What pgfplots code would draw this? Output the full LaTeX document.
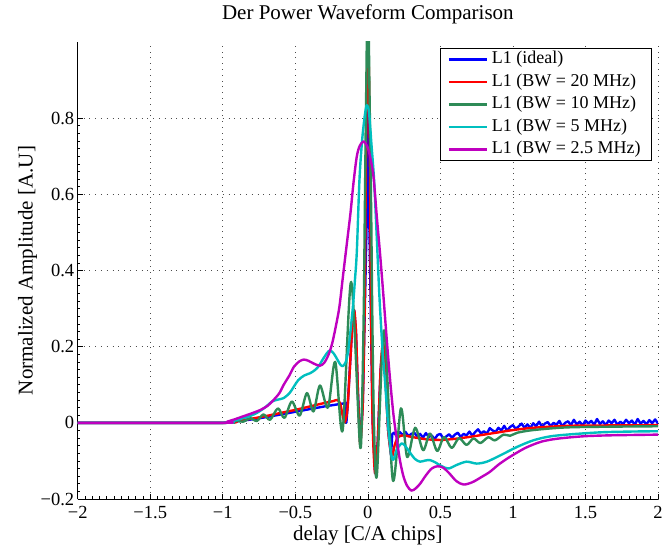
\documentclass[border=0pt]{standalone}
\usepackage{fontspec}
\setmainfont{Liberation Serif}
\usepackage{pgfplots}
\pgfplotsset{compat=1.18}
\usetikzlibrary{calc}
\definecolor{mgreen}{RGB}{46,139,87}
\definecolor{mcyan}{RGB}{0,191,191}
\definecolor{mmag}{RGB}{191,0,191}
\begin{document}
\begin{tikzpicture}
\begin{axis}[
  name=ax,
  scale only axis,
  width=580.3pt, height=457pt,
  xmin=-2, xmax=2, ymin=-0.2, ymax=1,
  axis lines*=left,
  axis line style={line width=0.8pt, black},
  xtick={-2,-1.5,-1,-0.5,0,0.5,1,1.5,2},
  xticklabels={−2,−1.5,−1,−0.5,0,0.5,1,1.5,2},
  ytick={-0.2,0,0.2,0.4,0.6,0.8},
  yticklabels={−0.2,0,0.2,0.4,0.6,0.8},
  minor x tick num=9, minor y tick num=9,
  tick align=inside,
  major tick length=5pt, minor tick length=2.5pt,
  tick style={black, line width=0.6pt},
  grid=major,
  major grid style={black!70, line width=0.6pt, dash pattern=on 0.8pt off 5pt},
  xticklabel style={font=\fontsize{18.5}{18}\selectfont, anchor=base, yshift=-20pt},
  yticklabel style={font=\fontsize{18.5}{18}\selectfont},
  title={Der Power Waveform Comparison},
  title style={font=\fontsize{21}{22}\selectfont, at={(0.5,1)}, anchor=base, yshift=16pt},
  xlabel={delay [C/A chips]},
  xlabel style={font=\fontsize{21}{22}\selectfont, at={(axis description cs:0.5,0)}, anchor=base, yshift=-42pt},
  ylabel={Normalized Amplitude [A.U]},
  ylabel style={font=\fontsize{21}{22}\selectfont, at={(axis description cs:-0.0775,0.5)}, anchor=base},
  every axis plot/.append style={line width=2.4pt, line join=round},
  legend image code/.code={\draw[#1] (0pt,0pt) -- (38pt,0pt);},
  legend style={at={(1,1)}, anchor=north east, xshift=-6pt, yshift=-6pt,
    draw=black, line width=0.8pt, fill=white,
    font=\fontsize{18}{18}\selectfont,
    inner xsep=7pt, inner ysep=0pt,
    nodes={inner xsep=4pt, inner ysep=3pt, text height=12.5pt, text depth=4pt},
    cells={anchor=west}, row sep=0pt},
]
% L1 ideal
\addplot[blue] coordinates {
(-2,0)(-1,0)(-0.9,0.004)(-0.8,0.009)(-0.7,0.015)(-0.6,0.022)(-0.5,0.029)(-0.4,0.036)(-0.3,0.043)(-0.2,0.049)(-0.15,0.052)(-0.148,0.0)(-0.14,0.04)(-0.12,0.17)(-0.105,0.27)(-0.094,0.296)(-0.082,0.24)(-0.07,0.1)(-0.06,0.0)(-0.052,-0.054)(-0.035,0.05)(-0.004,0.6)(0.002,1.1)(0.007,0.6)(0.033,0.0)(0.05,-0.133)(0.068,-0.05)(0.088,0.14)(0.105,0.21)(0.12,0.13)(0.14,-0.02)(0.16,-0.085)(0.168,-0.03)
(0.18,-0.026)(0.20,-0.035)(0.22,-0.024)(0.24,-0.032)(0.26,-0.024)(0.28,-0.035)(0.30,-0.029)(0.32,-0.026)(0.34,-0.036)(0.36,-0.029)(0.38,-0.039)(0.40,-0.027)(0.42,-0.037)(0.44,-0.033)(0.46,-0.043)(0.48,-0.032)(0.50,-0.029)(0.52,-0.041)(0.54,-0.036)(0.56,-0.030)(0.58,-0.039)(0.60,-0.031)(0.62,-0.026)(0.64,-0.037)(0.66,-0.029)(0.68,-0.033)(0.70,-0.023)(0.72,-0.034)(0.74,-0.024)(0.76,-0.017)(0.78,-0.028)(0.80,-0.022)(0.82,-0.029)(0.84,-0.014)(0.86,-0.020)(0.88,-0.024)(0.90,-0.013)(0.92,-0.020)(0.94,-0.008)(0.96,-0.021)(0.98,-0.011)(1.00,-0.006)(1.02,-0.016)(1.04,-0.009)(1.06,-0.002)(1.08,-0.013)(1.10,-0.004)(1.12,-0.014)(1.14,-0.001)(1.16,-0.009)(1.18,0.003)(1.20,-0.010)(1.22,-0.002)(1.24,0.002)(1.26,-0.009)(1.28,0.000)(1.30,-0.005)(1.32,0.005)(1.34,-0.009)(1.36,0.000)(1.38,0.004)(1.40,-0.006)(1.42,0.008)(1.44,-0.004)(1.46,0.003)(1.48,-0.007)(1.50,0.006)(1.52,-0.002)(1.54,0.005)(1.56,-0.005)(1.58,0.010)(1.60,-0.003)(1.62,0.004)(1.64,-0.006)(1.66,0.006)(1.68,-0.001)(1.70,0.008)(1.72,-0.005)(1.74,0.003)(1.76,-0.003)(1.78,0.008)(1.80,-0.001)(1.82,0.006)(1.84,-0.005)(1.86,0.010)(1.88,-0.002)(1.90,0.005)(1.92,-0.004)(1.94,0.007)(1.96,-0.001)(1.98,0.009)(2.00,-0.002)
};
\addlegendentry{L1 (ideal)}
% BW 20
\addplot[red, smooth, tension=0.5] coordinates {
(-2,0)(-1,0)(-0.9,0.005)(-0.8,0.011)(-0.7,0.018)(-0.6,0.026)(-0.5,0.034)(-0.4,0.043)(-0.3,0.052)(-0.24,0.057)(-0.21,0.06)(-0.19,0.05)(-0.172,0.016)(-0.158,0.002)(-0.14,0.04)(-0.12,0.17)(-0.105,0.27)(-0.094,0.296)(-0.082,0.24)(-0.07,0.1)(-0.06,0.0)(-0.052,-0.054)(-0.035,0.05)(-0.022,0.3)(-0.015,0.6)(-0.006,0.9)(0.003,0.98)(0.01,0.85)(0.016,0.6)(0.022,0.3)(0.033,0.0)(0.05,-0.133)(0.068,-0.05)(0.088,0.14)(0.105,0.21)(0.12,0.13)(0.14,-0.02)(0.165,-0.088)(0.185,-0.058)(0.21,-0.037)(0.25,-0.033)(0.3,-0.037)(0.35,-0.04)(0.4,-0.043)(0.5,-0.045)(0.6,-0.042)(0.7,-0.037)(0.8,-0.031)(0.9,-0.025)(1.0,-0.019)(1.14,-0.013)(1.37,-0.008)(1.6,-0.007)(2,-0.006)
};
\addlegendentry{L1 (BW = 20 MHz)}
% BW 10
\addplot[mgreen, smooth, tension=0.5] coordinates {
(-2,0)(-1,0)(-0.95,0.002)(-0.9,0.005)(-0.86,0.003)(-0.81,0.012)(-0.765,0.005)(-0.72,0.022)(-0.674,0.008)(-0.62,0.038)(-0.575,0.013)(-0.524,0.056)(-0.47,0.019)(-0.42,0.078)(-0.375,0.03)(-0.33,0.098)(-0.275,0.04)(-0.225,0.16)(-0.174,-0.02)(-0.115,0.37)(-0.055,-0.056)(-0.04,0.05)(-0.028,0.3)(-0.021,0.55)(-0.012,0.85)(0.0,1.15)(0.012,0.85)(0.023,0.55)(0.03,0.3)(0.042,0.0)(0.062,-0.138)(0.112,0.243)(0.172,-0.15)(0.228,0.038)(0.271,-0.09)(0.326,-0.013)(0.381,-0.072)(0.428,-0.028)(0.478,-0.074)(0.525,-0.037)(0.578,-0.066)(0.628,-0.04)(0.68,-0.058)(0.728,-0.041)(0.775,-0.053)(0.83,-0.038)(0.876,-0.046)(0.935,-0.031)(0.98,-0.034)(1.03,-0.026)(1.14,-0.019)(1.37,-0.012)(1.7,-0.01)(2,-0.009)
};
\addlegendentry{L1 (BW = 10 MHz)}
% BW 5
\addplot[mcyan, smooth, tension=0.5] coordinates {
(-2,0)(-1,0)(-0.95,0.003)(-0.88,0.01)(-0.82,0.017)(-0.77,0.025)(-0.71,0.04)(-0.66,0.056)(-0.62,0.061)(-0.58,0.065)(-0.54,0.078)(-0.51,0.095)(-0.48,0.112)(-0.44,0.124)(-0.40,0.13)(-0.37,0.137)(-0.34,0.148)(-0.31,0.167)(-0.28,0.184)(-0.26,0.19)(-0.235,0.182)(-0.21,0.166)(-0.19,0.153)(-0.172,0.149)(-0.152,0.16)(-0.135,0.19)(-0.12,0.24)(-0.103,0.305)(-0.09,0.37)(-0.076,0.45)(-0.058,0.637)(-0.04,0.74)(-0.02,0.81)(-0.007,0.834)(0.008,0.815)(0.025,0.73)(0.043,0.637)(0.06,0.5)(0.08,0.33)(0.10,0.2)(0.12,0.1)(0.14,-0.01)(0.155,-0.065)(0.168,-0.095)(0.18,-0.094)(0.20,-0.07)(0.234,-0.054)(0.26,-0.062)(0.29,-0.078)(0.325,-0.095)(0.36,-0.102)(0.395,-0.099)(0.43,-0.098)(0.47,-0.105)(0.51,-0.114)(0.556,-0.12)(0.61,-0.111)(0.68,-0.102)(0.75,-0.107)(0.82,-0.102)(0.91,-0.086)(1.03,-0.063)(1.14,-0.046)(1.25,-0.036)(1.37,-0.031)(1.6,-0.025)(1.8,-0.023)(2.0,-0.022)
};
\addlegendentry{L1 (BW = 5 MHz)}
% BW 2.5
\addplot[mmag, smooth, tension=0.5] coordinates {
(-2,0)(-1.0,0)(-0.97,0.003)(-0.92,0.009)(-0.86,0.017)(-0.80,0.025)(-0.74,0.034)(-0.69,0.045)(-0.65,0.06)(-0.61,0.078)(-0.58,0.10)(-0.54,0.125)(-0.51,0.147)(-0.47,0.162)(-0.44,0.166)(-0.41,0.163)(-0.37,0.155)(-0.33,0.150)(-0.30,0.158)(-0.27,0.18)(-0.245,0.21)(-0.22,0.255)(-0.196,0.305)(-0.17,0.39)(-0.145,0.47)(-0.12,0.55)(-0.099,0.63)(-0.076,0.70)(-0.055,0.728)(-0.03,0.739)(-0.01,0.73)(0.005,0.716)(0.02,0.69)(0.039,0.646)(0.062,0.54)(0.085,0.44)(0.108,0.33)(0.13,0.22)(0.154,0.11)(0.177,0.02)(0.2,-0.045)(0.222,-0.10)(0.245,-0.14)(0.27,-0.165)(0.30,-0.178)(0.33,-0.172)(0.36,-0.16)(0.40,-0.138)(0.44,-0.12)(0.48,-0.114)(0.52,-0.118)(0.56,-0.132)(0.61,-0.153)(0.66,-0.162)(0.72,-0.156)(0.78,-0.143)(0.84,-0.129)(0.90,-0.11)(0.96,-0.094)(1.02,-0.08)(1.08,-0.067)(1.14,-0.057)(1.2,-0.049)(1.28,-0.043)(1.37,-0.039)(1.5,-0.035)(1.65,-0.033)(1.8,-0.032)(2.0,-0.031)
};
\addlegendentry{L1 (BW = 2.5 MHz)}
\end{axis}
\pgfresetboundingbox
\path ($(ax.south west)+(-77.7pt,-48pt)$) rectangle ($(ax.north east)+(4pt,42pt)$);
\end{tikzpicture}
\end{document}
